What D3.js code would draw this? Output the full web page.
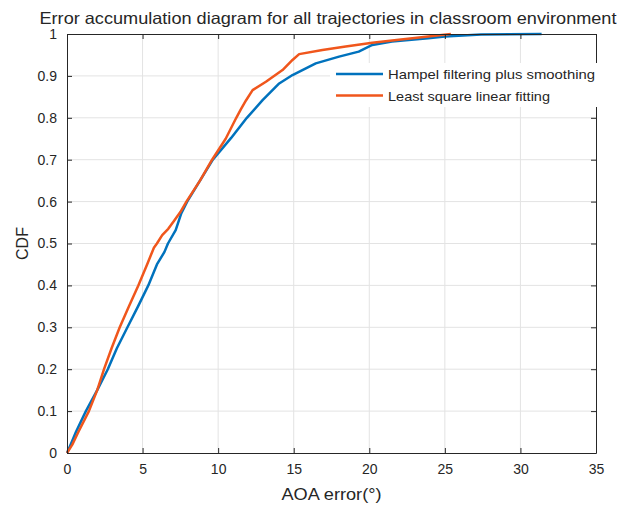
<!DOCTYPE html>
<html>
<head>
<meta charset="utf-8">
<script src="https://cdn.jsdelivr.net/npm/d3@7"></script>
<style>
  body { margin: 0; background: #fff; }
  text { font-family: "Liberation Sans", Arial, sans-serif; fill: #262626; }
</style>
</head>
<body>
<div id="chart"></div>
<script>
// series: [AOA error, CDF]
const hampelSeries = [
  [0, 0], [0.3, 0.025], [0.59, 0.05], [1.25, 0.10], [2.0, 0.15], [2.7, 0.20],
  [3.3, 0.25], [4.0, 0.30], [4.7, 0.35], [5.38, 0.40], [5.95, 0.45], [6.45, 0.48],
  [6.68, 0.50], [7.19, 0.532], [7.56, 0.572], [7.95, 0.60], [8.8, 0.65], [9.65, 0.70],
  [10.86, 0.752], [11.9, 0.80], [12.94, 0.842], [14.04, 0.882], [14.92, 0.902],
  [16.46, 0.93], [18.0, 0.946], [19.3, 0.958], [20.2, 0.974], [21.5, 0.982],
  [23.9, 0.99], [25.0, 0.994], [27.4, 0.999], [31.4, 1.0]
];
const lsqSeries = [
  [0, 0], [0.35, 0.02], [0.75, 0.05], [1.45, 0.10], [2.0, 0.15], [2.45, 0.20],
  [2.95, 0.25], [3.49, 0.30], [4.1, 0.35], [4.72, 0.40], [5.3, 0.45], [5.75, 0.49],
  [5.95, 0.50], [6.3, 0.52], [6.7, 0.535], [7.1, 0.555], [7.5, 0.575], [7.9, 0.60],
  [8.8, 0.65], [9.6, 0.70], [10.5, 0.75], [11.2, 0.80], [11.5, 0.82], [11.85, 0.842],
  [12.28, 0.866], [13.16, 0.886], [14.26, 0.914], [14.92, 0.938], [15.36, 0.952],
  [16.9, 0.962], [18.44, 0.97], [20.2, 0.979], [21.95, 0.986], [23.9, 0.994], [25.4, 1.0]
];
const seriesNames = ['Hampel filtering plus smoothing', 'Least square linear fitting'];
const seriesColors = ['#0072BD', '#F0561C'];
const xTicks = [0, 5, 10, 15, 20, 25, 30, 35];
const yTicks = [0, 0.1, 0.2, 0.3, 0.4, 0.5, 0.6, 0.7, 0.8, 0.9, 1];

const w = 619, h = 505;
const margins = { left: 67, right: 23, top: 34, bottom: 52 };
const width = w - margins.left - margins.right;
const height = h - margins.top - margins.bottom;

const svg = d3.select('#chart').append('svg')
  .attr('width', w)
  .attr('height', h);

const x = d3.scaleLinear().domain([0, 35]).range([0, width]);
const y = d3.scaleLinear().domain([0, 1]).range([height, 0]);

const vis = svg.append('g')
  .attr('transform', `translate(${margins.left}, ${margins.top})`);

// grid
vis.append('g').selectAll('line')
  .data(xTicks.slice(1, -1))
  .enter().append('line')
  .attr('x1', d => x(d)).attr('x2', d => x(d))
  .attr('y1', 0).attr('y2', height)
  .attr('stroke', '#e3e3e3').attr('stroke-width', 1);
vis.append('g').selectAll('line')
  .data(yTicks.slice(1, -1))
  .enter().append('line')
  .attr('y1', d => y(d)).attr('y2', d => y(d))
  .attr('x1', 0).attr('x2', width)
  .attr('stroke', '#e3e3e3').attr('stroke-width', 1);

// lines
const line = d3.line()
  .x(d => x(d[0]))
  .y(d => y(d[1]))
  .curve(d3.curveLinear);

[hampelSeries, lsqSeries].forEach((s, i) => {
  vis.append('path')
    .attr('d', line(s))
    .attr('fill', 'none')
    .attr('stroke', seriesColors[i])
    .attr('stroke-width', 2.5)
    .attr('stroke-linejoin', 'round');
});

// axes (ticks pointing in, box on all sides)
const fmtY = d => d === 0 || d === 1 ? d3.format('d')(d) : d3.format('.1f')(d);
const xAxis = d3.axisBottom(x).tickValues(xTicks).tickSizeInner(-5).tickSizeOuter(0).tickPadding(11);
const yAxis = d3.axisLeft(y).tickValues(yTicks).tickSizeInner(-5).tickSizeOuter(0).tickPadding(10).tickFormat(fmtY);
const xTop = d3.axisTop(x).tickValues(xTicks).tickSizeInner(-5).tickSizeOuter(0).tickFormat('');
const yRight = d3.axisRight(y).tickValues(yTicks).tickSizeInner(-5).tickSizeOuter(0).tickFormat('');

function styleAxis(g) {
  g.select('.domain').attr('stroke', '#262626');
  g.selectAll('.tick line').attr('stroke', '#262626');
  g.selectAll('.tick text')
    .style('font-family', '"Liberation Sans", Arial, sans-serif')
    .style('font-size', '14px')
    .attr('fill', '#262626');
}

vis.append('g').attr('transform', `translate(0, ${height})`).call(xAxis).call(styleAxis);
vis.append('g').call(yAxis).call(styleAxis);
vis.append('g').call(xTop).call(styleAxis);
vis.append('g').attr('transform', `translate(${width}, 0)`).call(yRight).call(styleAxis);

// legend
const legendLengths = [207, 162];
const legend = svg.append('g').attr('transform', 'translate(330, 63)');
legend.append('rect')
  .attr('x', 0).attr('y', 0)
  .attr('width', 272).attr('height', 44)
  .attr('fill', '#fff');
seriesNames.forEach((name, i) => {
  legend.append('line')
    .attr('x1', 6).attr('x2', 53)
    .attr('y1', 11 + i * 21.5).attr('y2', 11 + i * 21.5)
    .attr('stroke', seriesColors[i])
    .attr('stroke-width', 2.5);
  legend.append('text')
    .attr('x', 58)
    .attr('y', 16 + i * 21.5)
    .attr('textLength', legendLengths[i])
    .attr('lengthAdjust', 'spacingAndGlyphs')
    .style('font-size', '13.5px')
    .text(name);
});

// labels
svg.append('text')
  .attr('x', 328)
  .attr('y', 24)
  .attr('textLength', 577)
  .attr('lengthAdjust', 'spacingAndGlyphs')
  .style('text-anchor', 'middle')
  .style('font-size', '16.5px')
  .attr('fill', '#000')
  .text('Error accumulation diagram for all trajectories in classroom environment');

svg.append('text')
  .attr('x', margins.left + width / 2)
  .attr('y', 500)
  .attr('textLength', 100)
  .attr('lengthAdjust', 'spacingAndGlyphs')
  .style('text-anchor', 'middle')
  .style('font-size', '16px')
  .text('AOA error(°)');

svg.append('text')
  .attr('transform', `translate(28, ${margins.top + height / 2}) rotate(-90)`)
  .style('text-anchor', 'middle')
  .style('font-size', '16px')
  .text('CDF');
</script>
</body>
</html>
